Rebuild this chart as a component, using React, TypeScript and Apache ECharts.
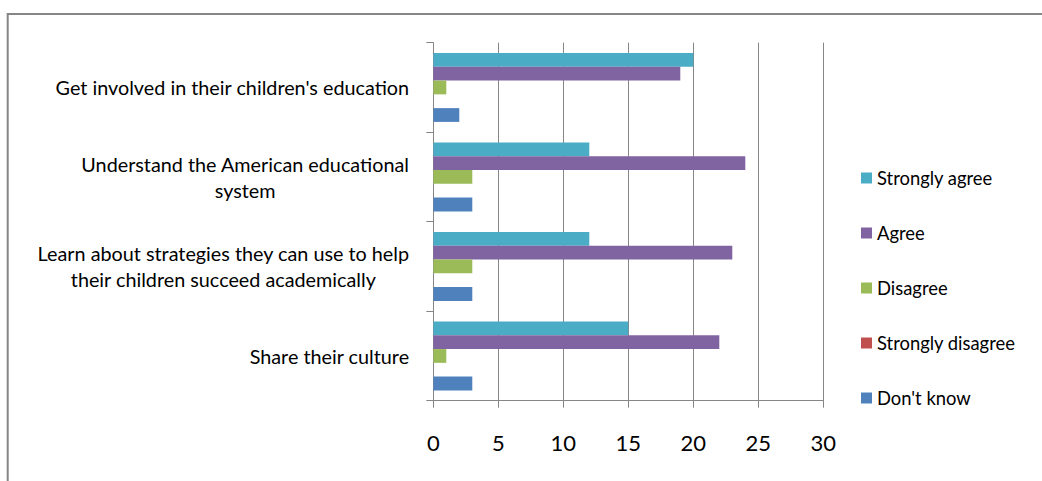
import React, { useEffect, useRef } from "react";
import * as echarts from "echarts";

const categories = [
  "Get involved in their children's education",
  "Understand the American educational\nsystem",
  "Learn about strategies they can use to help\ntheir children succeed academically",
  "Share their culture",
];
const seriesNames = ["Strongly agree", "Agree", "Disagree", "Strongly disagree", "Don't know"];
const stronglyAgree = [20, 12, 12, 15];
const agree = [19, 24, 23, 22];
const disagree = [1, 3, 3, 1];
const stronglyDisagree = [0, 0, 0, 0];
const dontKnow = [2, 3, 3, 3];
const xTicks = { min: 0, max: 30, interval: 5 };
const colors = ["#4BACC6", "#8064A2", "#9BBB59", "#C0504D", "#4F81BD"];

const FONT = "Lato";

export default function App() {
  const ref = useRef<HTMLDivElement>(null);
  useEffect(() => {
    if (!ref.current) return;
    const chart = echarts.init(ref.current, null, { renderer: "svg" });
    const values = [stronglyAgree, agree, disagree, stronglyDisagree, dontKnow];
    chart.setOption({
      animation: false,
      backgroundColor: "#ffffff",
      graphic: [
        {
          type: "rect",
          shape: { x: 7.7, y: 14, width: 1100, height: 500 },
          style: { fill: "none", stroke: "#868686", lineWidth: 2 },
          silent: true,
        },
      ],
      legend: {
        orient: "vertical",
        left: 856,
        top: 164,
        itemWidth: 11,
        itemHeight: 11,
        itemGap: 37,
        icon: "rect",
        data: seriesNames,
        textStyle: { fontFamily: FONT, fontSize: 18.4, color: "#000" },
      },
      grid: { left: 433.3, right: 218.7, top: 42.7, bottom: 80.3, containLabel: false },
      xAxis: {
        type: "value",
        min: xTicks.min,
        max: xTicks.max,
        interval: xTicks.interval,
        axisLine: { show: true, lineStyle: { color: "#868686", width: 1 } },
        axisTick: { show: true, length: 7, lineStyle: { color: "#868686" } },
        splitLine: { show: true, lineStyle: { color: "#868686", width: 1 } },
        axisLabel: { fontFamily: FONT, fontSize: 22, color: "#000", margin: 31 },
      },
      yAxis: {
        type: "category",
        inverse: true,
        data: categories,
        axisLine: { show: true, lineStyle: { color: "#868686", width: 1 } },
        axisTick: { show: true, length: 7, lineStyle: { color: "#868686" } },
        axisLabel: {
          margin: 24,
          align: "right",
          formatter: (v: string) => v.split("\n").map((l) => `{c|${l}}`).join("\n"),
          rich: {
            c: { align: "center", fontFamily: FONT, fontSize: 19.8, color: "#000", lineHeight: 26 },
          },
        },
      },
      series: seriesNames.map((name, i) => ({
        name,
        type: "bar",
        data: values[i],
        barGap: "0%",
        barCategoryGap: "23%",
        itemStyle: { color: colors[i] },
      })),
    });
    return () => chart.dispose();
  }, []);
  return (
    <div
      ref={ref}
      style={{ position: "absolute", left: 0, top: 0, width: 1042, height: 481 }}
    />
  );
}
